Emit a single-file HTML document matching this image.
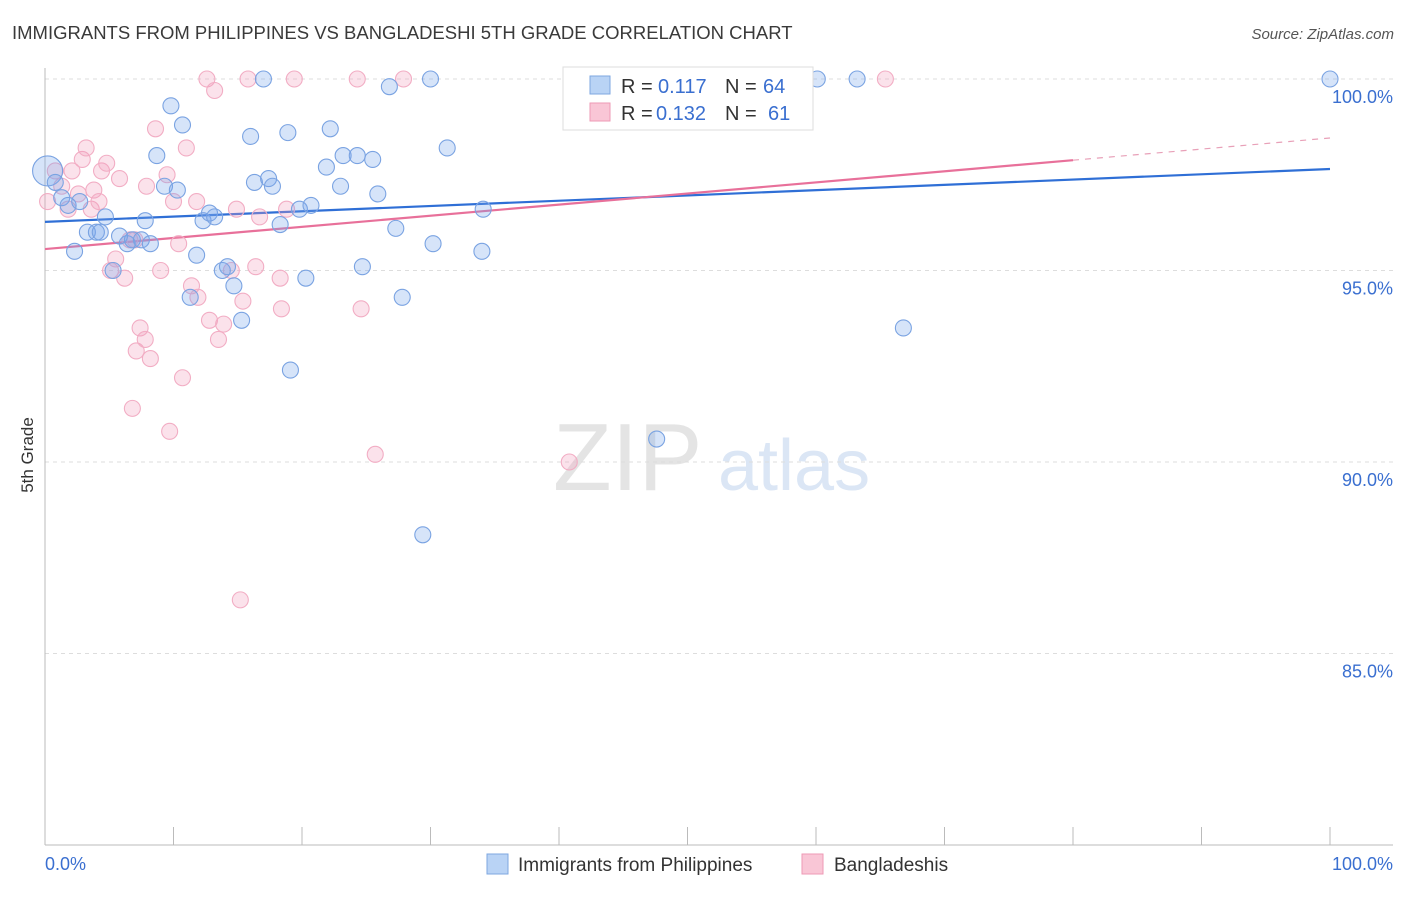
<!DOCTYPE html>
<html><head><meta charset="utf-8"><style>
body{margin:0;background:#fff;font-family:"Liberation Sans",sans-serif;}
svg text{font-family:"Liberation Sans",sans-serif;}
</style></head><body>
<svg id="chart" width="1406" height="892" xmlns="http://www.w3.org/2000/svg">
<text x="12" y="39" font-size="18.5" fill="#3a3a3a">IMMIGRANTS FROM PHILIPPINES VS BANGLADESHI 5TH GRADE CORRELATION CHART</text>
<text x="1394" y="39" font-size="15" fill="#555" font-style="italic" text-anchor="end">Source: ZipAtlas.com</text>
<text x="553" y="490" font-size="96" fill="#e4e4e4" font-family="Liberation Serif">ZIP</text>
<text x="718" y="490" font-size="72" fill="#dbe6f5">atlas</text>
<text transform="translate(33,455) rotate(-90)" font-size="17" fill="#333" text-anchor="middle">5th Grade</text>
<g id="grid"></g><g id="axes"></g><g id="lines"></g><g id="pts"></g>
<g>
<rect x="563" y="67" width="250" height="63" fill="#fff" stroke="#ddd"/>
<rect x="590" y="76" width="20" height="18" fill="#b9d3f5" stroke="#7ea7e0"/>
<text x="621" y="93" font-size="20" fill="#333">R = </text><text x="658" y="93" font-size="20" fill="#3a6fd0">0.117</text>
<text x="725" y="93" font-size="20" fill="#333">N = </text><text x="763" y="93" font-size="20" fill="#3a6fd0">64</text>
<rect x="590" y="103" width="20" height="18" fill="#f9c6d6" stroke="#ee9ab5"/>
<text x="621" y="120" font-size="20" fill="#333">R = </text><text x="656" y="120" font-size="20" fill="#3a6fd0">0.132</text>
<text x="725" y="120" font-size="20" fill="#333">N = </text><text x="768" y="120" font-size="20" fill="#3a6fd0">61</text>
</g>
<g>
<rect x="487" y="854" width="21" height="20" fill="#b9d3f5" stroke="#7ea7e0"/>
<text x="518" y="871" font-size="19" fill="#333">Immigrants from Philippines</text>
<rect x="802" y="854" width="21" height="20" fill="#f9c6d6" stroke="#ee9ab5"/>
<text x="834" y="871" font-size="19" fill="#333">Bangladeshis</text>
</g>
</svg>
<script>
const yTicks=[100,95,90,85];
const yTickLabels=["100.0%","95.0%","90.0%","85.0%"];
const blueX=[0.2,0.8,1.3,1.8,2.7,2.3,3.3,4.0,4.3,4.7,5.3,5.8,6.4,6.8,7.5,7.8,8.2,8.7,9.3,9.8,10.3,10.7,11.3,11.8,12.3,12.8,13.2,13.8,14.2,14.7,15.3,16.0,16.3,17.0,17.4,17.7,18.3,18.9,19.1,19.8,20.3,20.7,21.9,22.2,23.0,23.2,24.3,24.7,25.5,25.9,26.8,27.3,27.8,29.4,30.0,30.2,31.3,34.0,34.1,47.6,60.1,63.2,66.8,100];
const blueY=[97.6,97.3,96.9,96.7,96.8,95.5,96.0,96.0,96.0,96.4,95.0,95.9,95.7,95.8,95.8,96.3,95.7,98.0,97.2,99.3,97.1,98.8,94.3,95.4,96.3,96.5,96.4,95.0,95.1,94.6,93.7,98.5,97.3,100,97.4,97.2,96.2,98.6,92.4,96.6,94.8,96.7,97.7,98.7,97.2,98.0,98.0,95.1,97.9,97.0,99.8,96.1,94.3,88.1,100,95.7,98.2,95.5,96.6,90.6,100,100,93.5,100];
const pinkX=[0.2,0.8,1.3,1.8,2.1,2.6,2.9,3.2,3.6,3.8,4.2,4.4,4.8,5.1,5.5,5.8,6.2,6.6,6.8,7.1,7.4,7.8,7.9,8.2,8.6,9.0,9.5,9.7,10.0,10.4,10.7,11.0,11.4,11.8,11.9,12.6,12.8,13.2,13.5,13.9,14.5,14.9,15.2,15.4,15.8,16.4,16.7,18.3,18.4,18.8,19.4,24.3,24.6,25.7,27.9,40.8,53.2,65.4,7.0];
const pinkY=[96.8,97.6,97.2,96.6,97.6,97.0,97.9,98.2,96.6,97.1,96.8,97.6,97.8,95.0,95.3,97.4,94.8,95.8,91.4,92.9,93.5,93.2,97.2,92.7,98.7,95.0,97.5,90.8,96.8,95.7,92.2,98.2,94.6,96.8,94.3,100,93.7,99.7,93.2,93.6,95.0,96.6,86.4,94.2,100,95.1,96.4,94.8,94.0,96.6,100,100,94.0,90.2,100,90.0,100,100,95.8];
const blueTrend=[96.27,97.65];
const pinkTrend=[95.56,98.46];
const NS="http://www.w3.org/2000/svg";
const X=v=>45+v*12.85, Y=v=>79+(100-v)*38.3;
function mk(t,a,p){const e=document.createElementNS(NS,t);for(const k in a)e.setAttribute(k,a[k]);p.appendChild(e);return e;}
const grid=document.getElementById('grid'),axes=document.getElementById('axes');
yTicks.forEach((t,i)=>{const g=mk('line',{x1:45,x2:1393,y1:Y(t),y2:Y(t),stroke:'#ddd','stroke-dasharray':'4,4'},grid);


const tx=mk('text',{x:1393,y:Y(t)+24,'font-size':18,fill:'#3a6fd0','text-anchor':'end'},axes);tx.textContent=yTickLabels[i];

});
let a=mk('line',{x1:45,x2:45,y1:68,y2:845,stroke:'#bbb'},axes);


a=mk('line',{x1:45,x2:1393,y1:845,y2:845,stroke:'#bbb'},axes);


for(let i=0;i<=10;i++){const t=mk('line',{x1:X(i*10),x2:X(i*10),y1:827,y2:845,stroke:'#bbb'},axes);

}
[[0,'0.0%','start',45],[100,'100.0%','end',1393]].forEach(d=>{const t=mk('text',{x:d[3],y:870,'font-size':18,fill:'#3a6fd0','text-anchor':d[2]},axes);t.textContent=d[1];

});
const pts=document.getElementById('pts');
function dots(xs,ys,fill,stroke,name){xs.forEach((x,i)=>{const c=mk('circle',{cx:X(x),cy:Y(ys[i]),r:(i==0&&name=='blue-point'?15:8),fill:fill,stroke:stroke,'stroke-width':1.1},pts);

});}
dots(pinkX,pinkY,'rgba(243,160,188,0.3)','#f2adc4','pink-point');
dots(blueX,blueY,'rgba(120,165,235,0.3)','#7aa3e2','blue-point');
const lines=document.getElementById('lines');
let l=mk('line',{x1:X(0),y1:Y(blueTrend[0]),x2:X(100),y2:Y(blueTrend[1]),stroke:'#2f6fd6','stroke-width':2.2},lines);


const pm=v=>pinkTrend[0]+(pinkTrend[1]-pinkTrend[0])*v/100;
l=mk('line',{x1:X(0),y1:Y(pm(0)),x2:X(80),y2:Y(pm(80)),stroke:'#e8709a','stroke-width':2.2},lines);


l=mk('line',{x1:X(80),y1:Y(pm(80)),x2:X(100),y2:Y(pm(100)),stroke:'#e8a0b8','stroke-width':1.2,'stroke-dasharray':'6,6'},lines);


</script>
</body></html>
